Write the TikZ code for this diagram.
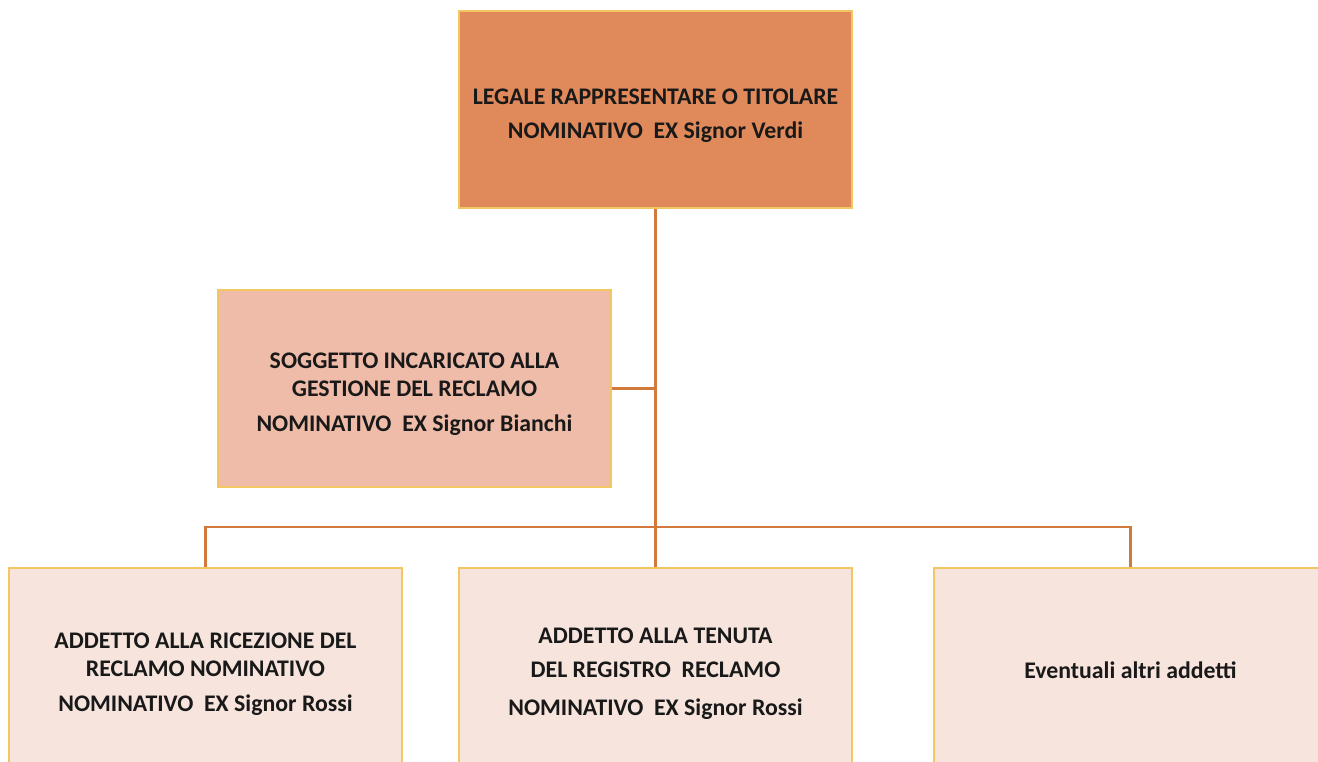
\documentclass[tikz,border=0pt]{standalone}
\usepackage{fontspec}
\setmainfont{Carlito}
\definecolor{topfill}{HTML}{E0895A}
\definecolor{midfill}{HTML}{EFBCA9}
\definecolor{lowfill}{HTML}{F6E4DD}
\definecolor{edgeyel}{HTML}{F2C661}
\definecolor{wire}{HTML}{D27A3C}
\begin{document}
\begin{tikzpicture}[x=1pt,y=-1pt,
  box/.style={draw=edgeyel,line width=2.5pt,minimum width=393pt,minimum height=197pt,inner sep=0pt},
  txt/.style={align=center,inner sep=0pt,font=\fontsize{23.8}{28}\selectfont\bfseries,text=black!90},
  wireline/.style={draw=wire,line width=2.6pt}]
\useasboundingbox[fill=white] (0,0) rectangle (1318,761);
\node[box,fill=topfill] (top) at (655.5,109.5) {};
\node[box,fill=midfill] (mid) at (414.5,388.5) {};
\node[box,fill=lowfill] (b1) at (205.5,666.5) {};
\node[box,fill=lowfill] (b2) at (655.5,666.5) {};
\node[box,fill=lowfill] (b3) at (1130.5,666.5) {};
\node[txt] (ttop) at ([yshift=-6pt]top.center) {LEGALE RAPPRESENTARE O TITOLARE\\[6pt]NOMINATIVO\ \ EX Signor Verdi};
\node[txt] (tmid) at ([yshift=-6pt]mid.center) {SOGGETTO INCARICATO ALLA\\GESTIONE DEL RECLAMO\\[7pt]NOMINATIVO\ \ EX Signor Bianchi};
\node[txt] (tb1) at ([yshift=-8pt]b1.center) {ADDETTO ALLA RICEZIONE DEL\\RECLAMO NOMINATIVO\\[7pt]NOMINATIVO\ \ EX Signor Rossi};
\node[txt] (tb2) at ([yshift=-7pt]b2.center) {ADDETTO ALLA TENUTA\\[6pt]DEL REGISTRO\ \ RECLAMO\\[10pt]NOMINATIVO\ \ EX Signor Rossi};
\node[txt] (tb3) at ([yshift=-4pt]b3.center) {Eventuali altri addetti};
\coordinate (j) at (655.5,527);
\draw[wireline] (top.south) -- (j) -- (b2.north);
\draw[wireline] (mid.east) -- (mid.east -| j);
\draw[wireline] (b1.north) |- (j) -| (b3.north);
\end{tikzpicture}
\end{document}
